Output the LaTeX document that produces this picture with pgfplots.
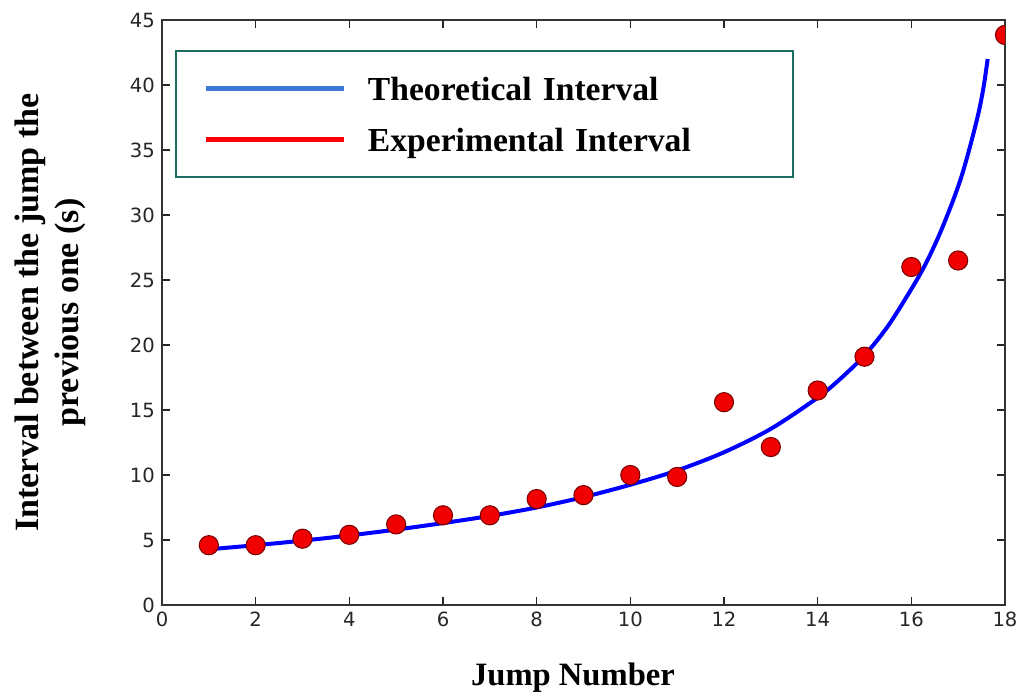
\documentclass[border=0pt]{standalone}
\usepackage{fontspec}
\setmainfont{Liberation Serif}
\newfontfamily\tickfont{DejaVu Sans}
\usepackage{pgfplots}
\pgfplotsset{compat=1.18}

\definecolor{legteal}{RGB}{25,110,95}
\definecolor{legblue}{RGB}{60,120,216}
\definecolor{curveblue}{RGB}{0,0,255}
\definecolor{dotred}{RGB}{240,0,0}
\definecolor{dotedge}{RGB}{120,0,0}

% theoretical interval (smooth curve)
\pgfplotstableread{
x y
1.05 4.30
2 4.6
3 4.95
4 5.35
5 5.8
6 6.3
7 6.85
8 7.5
9 8.3
10 9.25
11 10.35
12 11.75
13 13.55
14 15.95
14.5 17.45
15 19.2
15.5 21.45
16 24.3
16.3 26.2
16.6 28.5
16.9 31.2
17.1 33.3
17.3 35.9
17.45 38.1
17.55 40.0
17.63 42.0
}\theory

% measured intervals
\pgfplotstableread{
x y
1 4.6
2 4.6
3 5.1
4 5.4
5 6.2
6 6.9
7 6.9
8 8.15
9 8.45
10 10.0
11 9.85
12 15.6
13 12.15
14 16.5
15 19.1
16 26.0
17 26.5
18 43.85
}\measured

\begin{document}
\begin{tikzpicture}
\useasboundingbox (-81pt,-45pt) rectangle (430.5pt,302.5pt);
\begin{axis}[
  at={(0pt,0pt)}, anchor=south west,
  scale only axis, width=421.5pt, height=292.5pt,
  xmin=0, xmax=18, ymin=0, ymax=45,
  xtick={0,2,...,18}, ytick={0,5,...,45},
  tick align=inside, major tick length=4pt,
  tick style={black!85, line width=0.6pt},
  axis line style={black!80, line width=1pt},
  /pgf/number format/assume math mode=true,
  ticklabel style={font=\tickfont\fontsize{9.8}{11}\selectfont, text=black!85},
  clip marker paths=true,
  xlabel={Jump Number},
  ylabel={Interval between the jump the\\previous one (s)},
  label style={font=\bfseries\fontsize{17}{20}\selectfont},
  xlabel style={at={(axis description cs:0.4875,-0.1368)}, anchor=base,
    font=\bfseries\fontsize{16.3}{19}\selectfont},
  ylabel style={at={(axis description cs:-0.133,0.5)}, anchor=center, align=center},
  legend cell align=left,
  legend image code/.code={\draw[#1] (0pt,0pt) -- (69pt,0pt);},
  legend style={
    at={(axis description cs:0.0154,0.9487)}, anchor=north west,
    draw=legteal, line width=1pt,
    inner xsep=14pt, inner ysep=11pt,
    row sep=10pt, column sep=10.5pt,
    font=\bfseries\fontsize{16.8}{20}\selectfont,
    nodes={inner sep=0pt, text height=13.5pt, text depth=2pt, text width=198.5pt},
  },
]
\addlegendimage{legblue, line width=2.5pt}
\addlegendentry{Theoretical Interval}
\addlegendimage{red, line width=2.5pt}
\addlegendentry{Experimental Interval}

\addplot[forget plot, curveblue, line width=2pt, smooth] table[x=x, y=y] {\theory};
\addplot[forget plot, only marks, mark=*, mark size=4.8pt,
  mark options={fill=dotred, draw=dotedge, line width=0.5pt}] table[x=x, y=y] {\measured};
\end{axis}
\end{tikzpicture}
\end{document}
